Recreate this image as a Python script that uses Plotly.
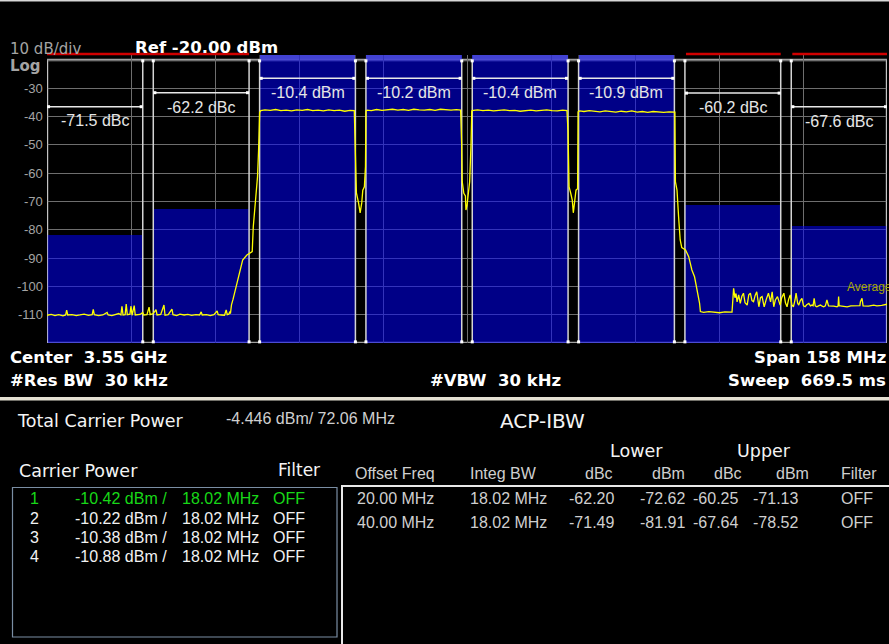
import plotly.graph_objects as go

# ---------------- data ----------------
CENTER_GHZ = 3.55
SPAN_MHZ = 158.0
REF_DBM = -20.0
BOTTOM_DBM = -120.0
y_tick_vals = [-30, -40, -50, -60, -70, -80, -90, -100, -110]
y_tick_labels = ["-30", "-40", "-50", "-60", "-70", "-80", "-90", "-100", "-110"]

carrier_ids = [1, 2, 3, 4]
carrier_center_mhz = [-30.0, -10.0, 10.0, 30.0]
carrier_bw_mhz = [18.02, 18.02, 18.02, 18.02]
carrier_power_dbm = [-10.42, -10.22, -10.38, -10.88]
carrier_filter = ["OFF", "OFF", "OFF", "OFF"]

offset_freq_mhz = [20.00, 40.00]
integ_bw_mhz = [18.02, 18.02]
lower_dbc = [-62.20, -71.49]
lower_dbm = [-72.62, -81.91]
upper_dbc = [-60.25, -67.64]
upper_dbm = [-71.13, -78.52]
offset_filter = ["OFF", "OFF"]

total_power_dbm = -4.446
total_bw_mhz = 72.06

trace_freq_mhz = [
    -79.0, -78.2, -77.5, -76.8, -76.0, -75.5, -75.3, -75.1, -74.3, -73.5, -72.8, -72.0, -71.2, -70.5,
    -70.3, -70.1, -69.3, -68.5, -67.7, -67.5, -66.8, -66.0, -65.5, -65.1, -64.9, -64.7, -64.3, -64.1,
    -63.9, -63.4, -63.2, -63.0, -62.6, -62.4, -61.5, -61.0, -60.8, -60.2, -59.8, -59.6, -59.0, -58.5,
    -58.3, -57.6, -57.0, -56.8, -56.2, -55.5, -55.3, -54.6, -54.0, -53.2, -52.5, -51.8, -51.0, -50.3,
    -50.0, -49.8, -49.0, -48.3, -47.6, -47.0, -46.8, -46.2, -45.6, -45.3, -45.1, -44.8, -44.6, -44.5,
    -44.3, -44.0, -43.4, -42.8, -42.2, -41.4, -40.8, -40.4, -40.2, -39.9, -39.6, -39.4, -39.2, -39.0,
    -38.8, -38.0, -37.0, -36.0, -35.0, -34.0, -33.0, -32.0, -31.0, -30.0, -29.0, -28.0, -27.0, -26.0,
    -25.0, -24.0, -23.0, -22.0, -21.2,
    -21.0, -20.8, -20.4, -20.1, -19.8, -19.6, -19.3, -19.1, -19.0,
    -18.8, -18.0, -17.0, -16.0, -15.0, -14.0, -13.0, -12.0, -11.0, -10.0, -9.0, -8.0, -7.0, -6.0,
    -5.0, -4.0, -3.0, -2.0, -1.2,
    -1.0, -0.9, -0.6, -0.3, -0.2, 0.0, 0.2, 0.5, 0.75, 0.9,
    1.2, 2.0, 3.0, 4.0, 5.0, 6.0, 7.0, 8.0, 9.0, 10.0, 11.0, 12.0, 13.0, 14.0, 15.0, 16.0, 17.0,
    18.0, 18.8,
    19.0, 19.2, 19.5, 19.8, 20.0, 20.2, 20.5, 20.8, 20.9,
    21.2, 22.0, 23.0, 24.0, 25.0, 26.0, 27.0, 28.0, 29.0, 30.0, 31.0, 32.0, 33.0, 34.0, 35.0, 36.0,
    37.0, 38.0, 38.9,
    39.1, 39.2, 39.5, 39.8, 40.1, 40.4, 41.1, 41.7, 42.3, 42.8, 43.3, 43.75, 43.9, 44.5, 45.5, 46.5,
    47.5, 48.5, 49.5, 49.85,
    50.15, 50.4, 50.6, 50.8, 51.1, 51.4, 51.7, 52.0, 52.3, 52.7, 53.0, 53.3, 53.6, 53.9, 54.2, 54.5,
    54.9, 55.2, 55.5, 55.9, 56.3, 56.7, 57.1, 57.4, 57.7, 58.0, 58.4, 58.9, 59.2, 59.6, 59.9, 60.2,
    60.5, 60.8, 61.1, 61.4, 61.7, 61.9, 62.2, 62.4, 62.7, 63.0, 63.3, 63.6, 63.9, 64.3, 64.6, 64.9,
    65.1, 65.3, 65.5, 65.8, 66.2, 66.5, 66.8, 67.1, 67.4, 67.7, 68.0, 68.3, 69.0, 69.6, 69.8, 69.9,
    70.0, 70.2, 71.0, 71.5, 72.2, 72.7, 73.3, 73.9, 74.0, 74.3, 74.5, 74.6, 75.5, 76.5, 77.1, 78.0,
    79.0,
]
trace_dbm = [
    -110.2, -109.9, -110.3, -110.0, -110.4, -110.1, -108.4, -110.1, -110.0, -110.3, -110.1, -109.8, -110.2, -110.0,
    -108.1, -110.0, -110.3, -110.1, -109.2, -110.1, -110.3, -110.0, -109.6, -110.1, -107.0, -110.1, -110.0, -106.2,
    -110.0, -109.8, -107.0, -110.2, -106.8, -110.1, -109.9, -109.2, -110.1, -110.0, -107.3, -110.0, -109.6, -108.2,
    -110.1, -109.9, -106.6, -110.2, -110.0, -108.0, -110.0, -110.3, -109.8, -110.1, -109.9, -110.2, -110.0, -110.1,
    -109.0, -110.1, -110.0, -110.3, -110.0, -108.7, -110.0, -110.1, -110.2, -108.3, -110.0, -109.8, -108.9, -109.6,
    -106.5, -104.5, -100.0, -95.3, -90.7, -88.9, -88.3, -87.7, -78.9, -73.0, -67.1, -61.2, -51.8, -38.5,
    -37.9, -37.6, -37.8, -37.5, -37.9, -37.7, -38.0, -37.6, -37.8, -37.5, -37.9, -37.7, -38.0, -37.6,
    -37.9, -37.7, -38.1, -37.8, -37.9,
    -58.0, -67.0, -70.5, -74.0, -70.5, -66.0, -64.8, -57.7, -38.0,
    -37.7, -37.9, -37.5, -37.8, -37.6, -37.4, -37.7, -37.5, -37.8, -37.4, -37.6, -37.7, -37.5, -37.8,
    -37.4, -37.6, -37.7, -37.5, -37.7,
    -50.0, -63.0, -67.1, -68.0, -73.0, -71.5, -68.0, -63.0, -50.0, -38.0,
    -37.8, -37.6, -37.9, -37.7, -38.0, -37.8, -37.6, -37.9, -37.8, -38.1, -37.9, -37.7, -38.0, -37.8, -37.6, -37.9, -38.0,
    -37.7, -37.9,
    -45.0, -64.8, -67.0, -69.5, -74.0, -71.5, -66.0, -65.5, -38.3,
    -38.0, -38.2, -37.9, -38.1, -38.3, -38.0, -38.2, -38.4, -38.1, -38.3, -38.0, -38.4, -38.2, -38.5, -38.2, -38.3,
    -38.5, -38.3, -38.4,
    -38.4, -63.0, -66.0, -75.4, -83.6, -86.3, -87.1, -89.5, -94.2, -96.6, -101.3, -106.0, -108.9, -109.2, -108.9, -109.1,
    -109.3, -109.0, -109.2, -109.1,
    -100.7, -104.0, -102.5, -105.5, -103.0, -106.0, -103.5, -102.4, -105.8, -106.6, -103.0, -102.4, -105.0, -105.4, -103.2, -101.9,
    -107.2, -104.0, -103.6, -107.2, -104.5, -102.4, -105.5, -101.9, -107.2, -104.8, -103.6, -106.6, -104.0, -102.4, -105.8, -107.2,
    -104.5, -103.0, -106.5, -107.2, -104.8, -102.4, -106.0, -106.6, -105.0, -104.2, -106.9, -107.2, -106.5, -106.0, -106.9, -106.6,
    -106.8, -104.2, -106.9, -107.2, -106.8, -106.6, -107.0, -107.2, -106.9, -104.8, -106.9, -106.9, -107.0, -107.2, -106.9, -103.6,
    -106.9, -106.9, -107.0, -107.2, -106.9, -106.9, -107.0, -106.8, -105.4, -104.2, -106.9, -106.9, -107.0, -106.6, -106.9, -106.7,
    -106.3,
]

# ---------------- geometry helpers ----------------
W, H = 889, 644
ML, MR, MT, MB = 47, 2, 55, 301
PW, PH = W - ML - MR, H - MT - MB
Y_TOP = -18.23
X_MIN, X_MAX = -SPAN_MHZ / 2, SPAN_MHZ / 2


def P(xpx):
    return (xpx - ML) / PW


def Q(ypx):
    return (H - MB - ypx) / PH


DEJ = "DejaVu Sans"
LIB = "Liberation Sans, Arial"
annotations = []


def txt(x, y, s, size, color, xanchor="left", family=LIB, xref="paper", yref="paper"):
    if xref == "paper":
        x = x - 2.5 if xanchor == "left" else (x + 2.5 if xanchor == "right" else x)
        x = P(x)
    annotations.append(dict(
        x=x, y=Q(y) if yref == "paper" else y,
        xref=xref, yref=yref, text=s, showarrow=False, xanchor=xanchor, yanchor="middle",
        font=dict(size=size, color=color, family=family)))


fig = go.Figure()

# channel lists
lo_centers = [carrier_center_mhz[0] - o for o in offset_freq_mhz]
up_centers = [carrier_center_mhz[-1] + o for o in offset_freq_mhz]
all_centers = carrier_center_mhz + lo_centers + up_centers
all_bw = carrier_bw_mhz + integ_bw_mhz + integ_bw_mhz
all_top = carrier_power_dbm + lower_dbm + upper_dbm

fig.add_trace(go.Bar(
    x=all_centers, y=[t - BOTTOM_DBM for t in all_top], base=[BOTTOM_DBM] * len(all_top),
    width=all_bw, marker=dict(color="rgba(0,0,255,0.53)", line=dict(width=0)),
    hoverinfo="skip", showlegend=False))

# channel edge lines
ex, ey = [], []
dx, dy = [], []
for c, b in zip(all_centers, all_bw):
    for e in (c - b / 2, c + b / 2):
        ex += [e, e, None]
        ey += [BOTTOM_DBM, REF_DBM, None]
        dx += [e, e]
        dy += [REF_DBM - 0.3, BOTTOM_DBM + 0.4]
fig.add_trace(go.Scatter(x=ex, y=ey, mode="lines", line=dict(color="#d4d4d4", width=1.5),
                         hoverinfo="skip", showlegend=False))
fig.add_trace(go.Scatter(x=dx, y=dy, mode="markers", marker=dict(symbol="square", size=3, color="#ffffff"),
                         cliponaxis=False, hoverinfo="skip", showlegend=False))

# measurement bars
mx, my = [], []
bar_levels = [-26.47] * 4 + [-31.55, -36.5] + [-31.7, -36.5]
for c, b, lv in zip(all_centers, all_bw, bar_levels):
    mx += [c - b / 2 + 0.3, c + b / 2 - 0.3, None]
    my += [lv, lv, None]
fig.add_trace(go.Scatter(x=mx, y=my, mode="lines+markers", line=dict(color="#e8e8e8", width=1.5),
                         marker=dict(symbol="square", size=3, color="#ffffff"),
                         hoverinfo="skip", showlegend=False))

# yellow trace
fig.add_trace(go.Scatter(x=trace_freq_mhz, y=trace_dbm, mode="lines",
                         line=dict(color="#ffff00", width=1.3), hoverinfo="skip", showlegend=False))

# labels inside plot
for c, p in zip(carrier_center_mhz, carrier_power_dbm):
    txt(c, -31.65, f"{p:.1f} dBm", 16, "#e6e6e6", "center", LIB, "x", "y")
for c, v, yl in zip(lo_centers, lower_dbc, [-36.9, -41.5]):
    txt(c, yl, f"{v:.1f} dBc", 16, "#e6e6e6", "center", LIB, "x", "y")
for c, v, yl in zip(up_centers, upper_dbc, [-36.8, -41.6]):
    txt(c, yl, f"{v:.1f} dBc", 16, "#e6e6e6", "center", LIB, "x", "y")
txt(847, 287, "Average", 12, "#a8a800", "left", LIB)

shapes = []
# top strip above carriers
for c, b in zip(carrier_center_mhz, carrier_bw_mhz):
    shapes.append(dict(type="rect", xref="x", yref="y", x0=c - b / 2, x1=c + b / 2, y0=REF_DBM, y1=Y_TOP,
                       fillcolor="#8c8ca0", line=dict(width=0), layer="below"))
# graticule border
shapes.append(dict(type="rect", xref="x", yref="y", x0=X_MIN, x1=X_MAX, y0=BOTTOM_DBM, y1=REF_DBM,
                   line=dict(color="#a0a0a0", width=2.5), layer="below"))
# red limit lines
red_y = Q(54)
shapes.append(dict(type="line", xref="x", yref="paper", x0=lo_centers[1] - integ_bw_mhz[1] / 2 - 0.3,
                   x1=lo_centers[0] + integ_bw_mhz[0] / 2, y0=red_y, y1=red_y,
                   line=dict(color="#d00000", width=2.5)))
for c, b in zip(up_centers, integ_bw_mhz):
    shapes.append(dict(type="line", xref="x", yref="paper", x0=c - b / 2 + 0.2, x1=c + b / 2,
                       y0=red_y, y1=red_y, line=dict(color="#d00000", width=2.5)))
# separators and boxes
shapes.append(dict(type="rect", xref="paper", yref="paper", x0=P(-5), x1=P(895), y0=Q(400.5), y1=Q(397),
                   fillcolor="#e4e0d2", line=dict(width=0)))
shapes.append(dict(type="rect", xref="paper", yref="paper", x0=P(-5), x1=P(895), y0=Q(1.5), y1=Q(-2),
                   fillcolor="#d8d8d8", line=dict(width=0)))
shapes.append(dict(type="rect", xref="paper", yref="paper", x0=P(12.5), x1=P(337), y0=Q(637), y1=Q(487.5),
                   line=dict(color="#7a8ea4", width=1.2)))
shapes.append(dict(type="rect", xref="paper", yref="paper", x0=P(342), x1=P(895), y0=Q(652), y1=Q(486),
                   line=dict(color="#e8e8e8", width=2)))

# header texts
GRAY = "#a4a4a4"
txt(10, 49, "10 dB/div", 15, GRAY, "left", DEJ)
txt(10, 66, "<b>Log</b>", 15, GRAY, "left", DEJ)
txt(135, 47, f"<b>Ref {REF_DBM:.2f} dBm</b>", 16.5, "#ffffff", "left", DEJ)
for v, lab in zip(y_tick_vals, y_tick_labels):
    txt(42, 55 + (Y_TOP - v) * PH / (Y_TOP - BOTTOM_DBM), lab, 13, GRAY, "right", LIB)

BW = "#ffffff"
txt(10, 357, f"<b>Center\u00a0 {CENTER_GHZ:.2f} GHz</b>", 16.5, BW, "left", DEJ)
txt(10, 380, "<b>#Res BW\u00a0 30 kHz</b>", 16.5, BW, "left", DEJ)
txt(430, 380, "<b>#VBW\u00a0 30 kHz</b>", 16.5, BW, "left", DEJ)
txt(885, 357, f"<b>Span {SPAN_MHZ:.0f} MHz</b>", 16.5, BW, "right", DEJ)
txt(885, 380, "<b>Sweep\u00a0 669.5 ms</b>", 16.5, BW, "right", DEJ)

# lower panel
LG = "#cfcfcf"
HW = "#f4f4f4"
txt(17, 421, "Total Carrier Power", 17.5, HW, "left", DEJ)
txt(226, 418, f"{total_power_dbm:.3f} dBm/ {total_bw_mhz:.2f} MHz", 16, LG, "left", LIB)
txt(500, 421, "ACP-IBW", 20, HW, "left", DEJ)
txt(610, 451, "Lower", 17.5, HW, "left", DEJ)
txt(737, 451, "Upper", 17.5, HW, "left", DEJ)
txt(19, 471, "Carrier Power", 17.5, HW, "left", DEJ)
txt(278, 470, "Filter", 17, HW, "left", DEJ)

txt(355, 473, "Offset Freq", 16, LG, "left", LIB)
txt(470, 473, "Integ BW", 16, LG, "left", LIB)
txt(612, 473, "dBc", 16, LG, "right", LIB)
txt(684, 473, "dBm", 16, LG, "right", LIB)
txt(741, 473, "dBc", 16, LG, "right", LIB)
txt(808, 473, "dBm", 16, LG, "right", LIB)
txt(876, 473, "Filter", 16, LG, "right", LIB)

row_y = [499, 522]
for i in range(len(offset_freq_mhz)):
    y = row_y[i]
    txt(357, y, f"{offset_freq_mhz[i]:.2f} MHz", 16, LG, "left", LIB)
    txt(470, y, f"{integ_bw_mhz[i]:.2f} MHz", 16, LG, "left", LIB)
    txt(613, y, f"{lower_dbc[i]:.2f}", 16, LG, "right", LIB)
    txt(684, y, f"{lower_dbm[i]:.2f}", 16, LG, "right", LIB)
    txt(737, y, f"{upper_dbc[i]:.2f}", 16, LG, "right", LIB)
    txt(797, y, f"{upper_dbm[i]:.2f}", 16, LG, "right", LIB)
    txt(872, y, offset_filter[i], 16, LG, "right", LIB)

crow_y = [498, 518, 537, 556]
for i, cid in enumerate(carrier_ids):
    col = "#18d818" if i == 0 else "#f2f2f2"
    y = crow_y[i]
    txt(34, y, str(cid), 16, col, "center", LIB)
    txt(75, y, f"{carrier_power_dbm[i]:.2f} dBm /", 16, col, "left", LIB)
    txt(182, y, f"{carrier_bw_mhz[i]:.2f} MHz", 16, col, "left", LIB)
    txt(273, y, carrier_filter[i], 16, col, "left", LIB)

fig.update_layout(
    width=W, height=H, margin=dict(l=ML, r=MR, t=MT, b=MB),
    paper_bgcolor="#000000", plot_bgcolor="#000000",
    barmode="overlay", bargap=0, showlegend=False,
    xaxis=dict(range=[X_MIN, X_MAX], showgrid=True, gridcolor="#6e6e6e", gridwidth=1,
               tick0=X_MIN, dtick=SPAN_MHZ / 10, showticklabels=False, ticks="", zeroline=False,
               fixedrange=True),
    yaxis=dict(range=[BOTTOM_DBM, Y_TOP], showgrid=True, gridcolor="#6e6e6e", gridwidth=1,
               tick0=BOTTOM_DBM, dtick=10, showticklabels=False, ticks="", zeroline=False,
               fixedrange=True),
    shapes=shapes, annotations=annotations,
)

fig.write_html("out.html", config={"displayModeBar": False},
               post_script="document.body.style.margin='0';document.body.style.background='#000';")
